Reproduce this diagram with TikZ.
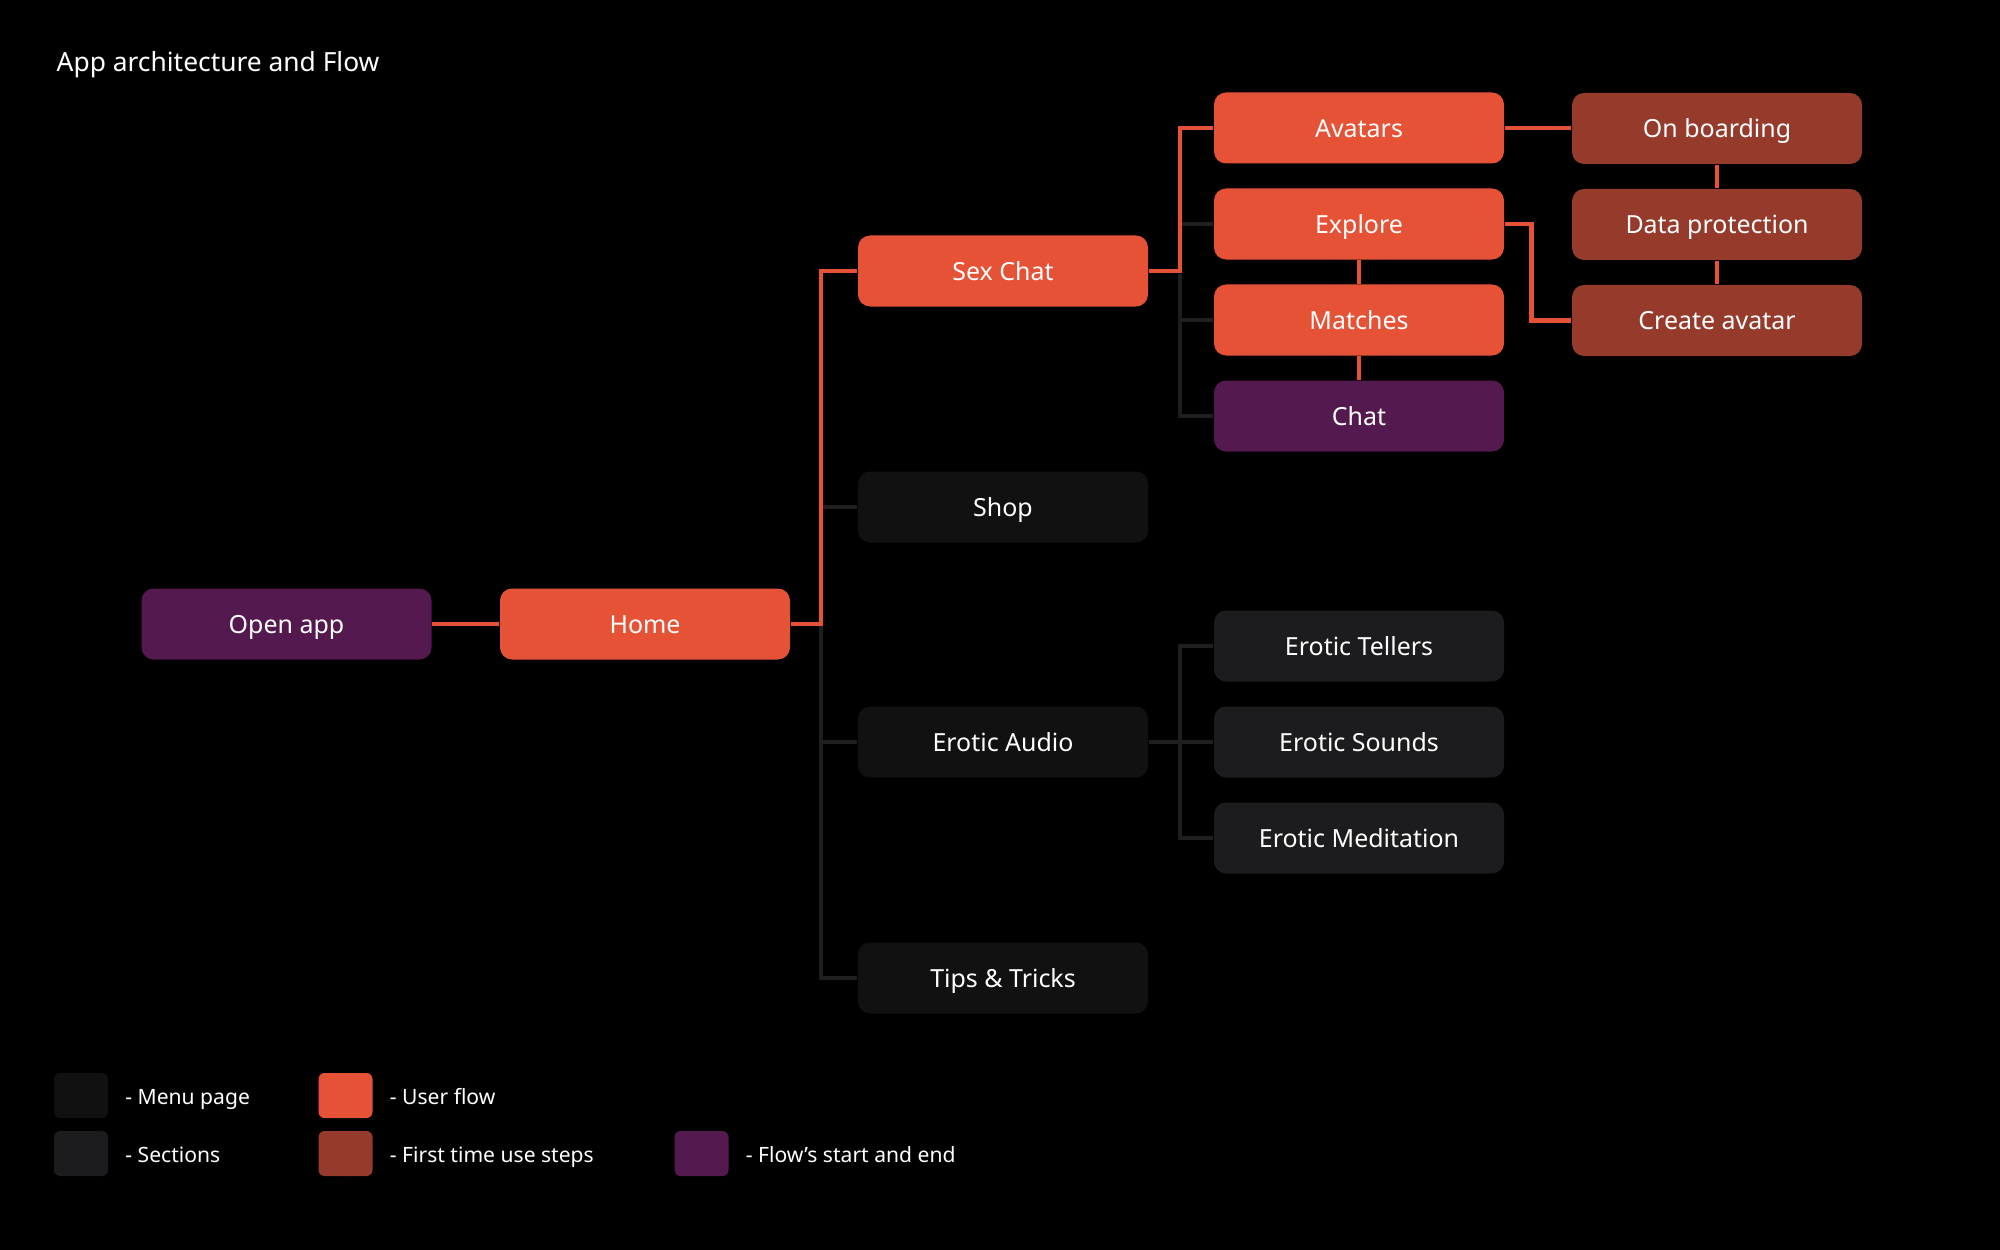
\documentclass[tikz,border=0pt]{standalone}
\usepackage{fontspec}
\setmainfont{Noto Sans}
\definecolor{userflow}{HTML}{E65236}
\definecolor{firsttime}{HTML}{963B2B}
\definecolor{startend}{HTML}{541A50}
\definecolor{menupage}{HTML}{111112}
\definecolor{sections}{HTML}{1C1C1E}
\definecolor{darkline}{HTML}{1E1E1E}
\begin{document}
\begin{tikzpicture}[
	box/.style={rounded corners=0.12cm, minimum width=2.9cm, minimum height=0.71cm, text=white, inner sep=0pt, text height=0.72em, text depth=0.2em, font=\fontsize{7.1pt}{8pt}\selectfont},
	swatch/.style={rounded corners=0.06cm, minimum width=0.54cm, minimum height=0.45cm, inner sep=0pt},
	legtext/.style={right, text=white, inner sep=0pt, text height=0.72em, text depth=0.2em, font=\fontsize{6pt}{7pt}\selectfont},
	flow/.style={userflow, line width=1.3pt},
	sect/.style={darkline, line width=1.3pt}]
%background
	\fill[black] (0,0) rectangle (20,-12.5);
	\useasboundingbox (0,0) rectangle (20,-12.5);
	\node[right, text=white, inner sep=0pt, text height=0.72em, text depth=0.2em, font=\fontsize{7.5pt}{9pt}\selectfont] (title) at (0.56,-0.62) {App architecture and Flow};

%boxes
	\foreach \xy/\name/\txt in {{(2.865,-6.24)/open/Open app},{(13.59,-4.16)/chat/Chat}} {
		\node[box, fill=startend] (\name) at \xy {\txt};
	}
	\foreach \xy/\name/\txt in {{(6.45,-6.24)/home/Home},{(10.03,-2.71)/sexchat/Sex Chat},{(13.59,-1.28)/avatars/Avatars},{(13.59,-2.24)/explore/Explore},{(13.59,-3.20)/matches/Matches}} {
		\node[box, fill=userflow] (\name) at \xy {\txt};
	}
	\foreach \xy/\name/\txt in {{(17.17,-1.285)/onboard/On boarding},{(17.17,-2.245)/dataprot/Data protection},{(17.17,-3.205)/create/Create avatar}} {
		\node[box, fill=firsttime] (\name) at \xy {\txt};
	}
	\foreach \xy/\name/\txt in {{(10.03,-5.07)/shop/Shop},{(10.03,-7.42)/audio/Erotic Audio},{(10.03,-9.78)/tips/Tips \& Tricks}} {
		\node[box, fill=menupage] (\name) at \xy {\txt};
	}
	\foreach \xy/\name/\txt in {{(13.59,-6.46)/tellers/Erotic Tellers},{(13.59,-7.42)/sounds/Erotic Sounds},{(13.59,-8.38)/medit/Erotic Meditation}} {
		\node[box, fill=sections] (\name) at \xy {\txt};
	}

%dark lines
	\coordinate (hbus) at (8.21,-6.24);
	\coordinate (sbus) at (11.80,-2.74);
	\coordinate (abus) at (11.80,-7.42);
	\draw[sect] (hbus) |- (tips.west);
	\draw[sect] (shop.west) -- (shop.west -| hbus);
	\draw[sect] (audio.west) -- (audio.west -| hbus);
	\draw[sect] (sbus) |- (chat.west);
	\draw[sect] (explore.west) -- (explore.west -| sbus);
	\draw[sect] (matches.west) -- (matches.west -| sbus);
	\draw[sect] (audio.east) -- (sounds.west);
	\draw[sect] (tellers.west) -| (abus) |- (medit.west);

%user flow
	\draw[flow] (open.east) -- (home.west);
	\draw[flow] (home.east) -- (home.east -| hbus) |- (sexchat.west);
	\draw[flow] (sexchat.east) -- (sexchat.east -| sbus) |- (avatars.west);
	\draw[flow] (avatars.east) -- (avatars.east -| onboard.west);
	\draw[flow] (onboard.south) -- (dataprot.north);
	\draw[flow] (dataprot.south) -- (create.north);
	\draw[flow] (explore.south) -- (matches.north);
	\draw[flow] (matches.south) -- (chat.north);
	\draw[flow] (explore.east) -- ++(0.27,0) |- (create.west);

%legend
	\foreach \xy/\name/\col/\txt in {{(0.81,-10.955)/legmenu/menupage/- Menu page},{(0.81,-11.535)/legsect/sections/- Sections},{(3.455,-10.955)/legflow/userflow/- User flow},{(3.455,-11.535)/legfirst/firsttime/- First time use steps},{(7.015,-11.535)/legstart/startend/- Flow’s start and end}} {
		\node[swatch, fill=\col] (\name) at \xy {};
		\node[legtext] at ([xshift=0.16cm]\name.east) {\txt};
	}
\end{tikzpicture}
\end{document}
